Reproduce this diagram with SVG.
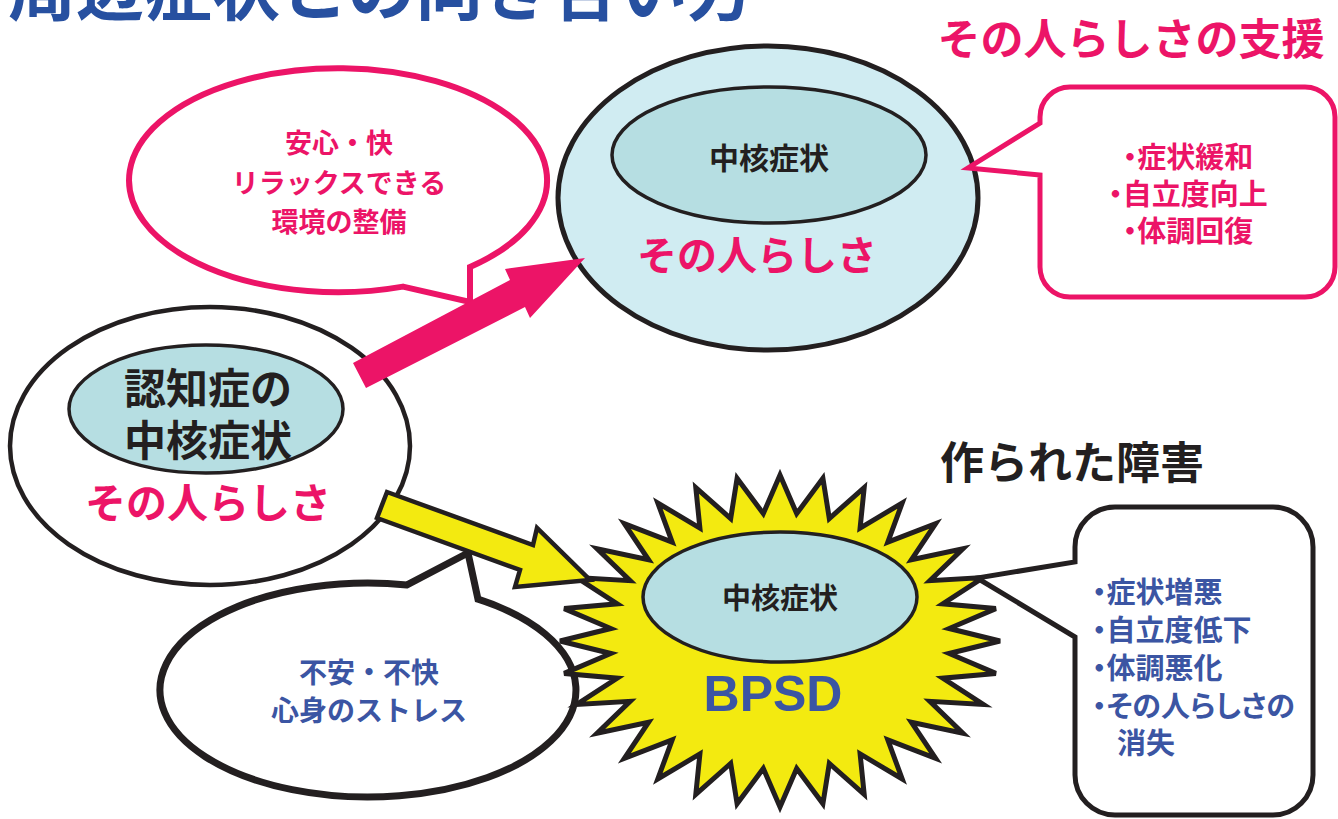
<svg xmlns="http://www.w3.org/2000/svg" width="1338" height="819" viewBox="0 0 1338 819">
<style>
  text { font-family: "Noto Sans CJK JP", "Noto Sans", sans-serif; font-weight: 700; }
  .pink { fill: #ec1467; }
  .blue { fill: #3b55a3; }
  .dark { fill: #231f20; }
  .mid { text-anchor: middle; }
  .palt { font-feature-settings: "palt" 1; }
  .outer { fill: #d0ecf2; stroke: #231f20; stroke-width: 5; }
  .core { fill: #b6dee2; stroke: #231f20; stroke-width: 3.5; }
</style>

<g id="title">
  <text x="8" y="15" font-size="68" fill="#2750a0">周辺症状との向き合い方</text>
</g>

<g id="heading-support">
  <text x="1131" y="55" font-size="43" class="pink mid">その人らしさの支援</text>
</g>

<g id="heading-made">
  <text x="1072" y="479" font-size="44" class="dark mid">作られた障害</text>
</g>

<g id="bubble-comfort">
  <path d="M 403 286.6 L 470 302 L 470 267 A 209 112 0 1 0 403 286.6 Z" fill="#ffffff" stroke="#ec1467" stroke-width="6" stroke-linejoin="miter"/>
  <text font-size="27" class="pink mid"><tspan x="339" y="153">安心・快</tspan><tspan x="339" y="193">リラックスできる</tspan><tspan x="339" y="232">環境の整備</tspan></text>
</g>

<g id="node-personhood">
  <ellipse cx="768" cy="198" rx="210" ry="152" class="outer"/>
  <ellipse cx="769" cy="155" rx="157" ry="68" class="core"/>
  <text x="769" y="169" font-size="30" class="dark mid">中核症状</text>
  <text x="757" y="270" font-size="40" class="pink mid">その人らしさ</text>
</g>

<g id="callout-support">
  <path d="M 1070 87 H 1305 A 30 30 0 0 1 1335 117 V 267 A 30 30 0 0 1 1305 297 H 1070 A 30 30 0 0 1 1040 267 V 175 L 968 168 L 1040 123 V 117 A 30 30 0 0 1 1070 87 Z" fill="#ffffff" stroke="#ec1467" stroke-width="5"/>
  <text font-size="29" class="pink mid palt"><tspan x="1188" y="168">・症状緩和</tspan><tspan x="1188" y="205">・自立度向上</tspan><tspan x="1188" y="242">・体調回復</tspan></text>
</g>

<g id="node-dementia">
  <ellipse cx="210" cy="446" rx="200" ry="139" fill="#ffffff" stroke="#231f20" stroke-width="4.5"/>
  <ellipse cx="206" cy="409" rx="137" ry="64" class="core"/>
  <text font-size="42" class="dark mid"><tspan x="208" y="404">認知症の</tspan><tspan x="208" y="456">中核症状</tspan></text>
  <text x="208" y="518" font-size="41" class="pink mid">その人らしさ</text>
</g>

<g id="bubble-stress">
  <path d="M 407 584.9 L 468 553 L 478 599.2 A 208 107 0 1 1 407 584.9 Z" fill="#ffffff" stroke="#231f20" stroke-width="7" stroke-linejoin="miter"/>
  <text font-size="28" class="blue mid"><tspan x="369" y="683">不安・不快</tspan><tspan x="369" y="721">心身のストレス</tspan></text>
</g>

<g id="node-bpsd">
  <polygon points="1000,641 949.2,628.5 995.8,608.6 942.7,603.8 983.3,577.5 929.9,580.7 962.9,548.8 911.4,559.8 935.6,523.6 887.8,542.1 902.2,503 860.1,528.1 864.2,487.6 829.3,518.5 822.9,478.2 796.7,513.6 780,475 763.3,513.6 737.1,478.2 730.7,518.5 695.8,487.6 699.9,528.1 657.8,503 672.2,542.1 624.4,523.6 648.6,559.8 597.1,548.8 630.1,580.7 576.7,577.5 617.3,603.8 564.2,608.6 610.8,628.5 560,641 610.8,653.5 564.2,673.4 617.3,678.2 576.7,704.5 630.1,701.3 597.1,733.2 648.6,722.2 624.4,758.4 672.2,739.9 657.8,779 699.9,753.9 695.8,794.4 730.7,763.5 737.1,803.8 763.3,768.4 780,807 796.7,768.4 822.9,803.8 829.3,763.5 864.2,794.4 860.1,753.9 902.2,779 887.8,739.9 935.6,758.4 911.4,722.2 962.9,733.2 929.9,701.3 983.3,704.5 942.7,678.2 995.8,673.4 949.2,653.5" fill="#f3ea10" stroke="#231f20" stroke-width="5" stroke-linejoin="miter"/>
  <ellipse cx="780" cy="597" rx="137" ry="65" class="core"/>
  <text x="780" y="609" font-size="29" class="dark mid">中核症状</text>
  <text x="773" y="711" font-size="50" class="blue mid" style="font-family: 'Liberation Sans', Arial, sans-serif;">BPSD</text>
</g>

<g id="callout-harm">
  <path d="M 1115 507 H 1273 A 40 40 0 0 1 1313 547 V 775 A 40 40 0 0 1 1273 815 H 1115 A 40 40 0 0 1 1075 775 V 637 L 977 578 L 1075 562 V 547 A 40 40 0 0 1 1115 507 Z" fill="#ffffff" stroke="#231f20" stroke-width="5"/>
  <text font-size="29" class="blue palt"><tspan x="1092" y="603">・症状増悪</tspan><tspan x="1092" y="641">・自立度低下</tspan><tspan x="1092" y="679">・体調悪化</tspan><tspan x="1092" y="717">・その人らしさの</tspan><tspan x="1117" y="754">消失</tspan></text>
</g>

<g id="connectors">
  <polygon id="arrow-support" points="353,363 510,280 505,269 585,258 530,318 525,307 366,388" fill="#ec1467"/>
  <polygon id="arrow-harm" points="387,492 533,545 537,528 590,580 515,587 520,570 377,518" fill="#f3ea10" stroke="#231f20" stroke-width="4.5" stroke-linejoin="miter"/>
</g>
</svg>
